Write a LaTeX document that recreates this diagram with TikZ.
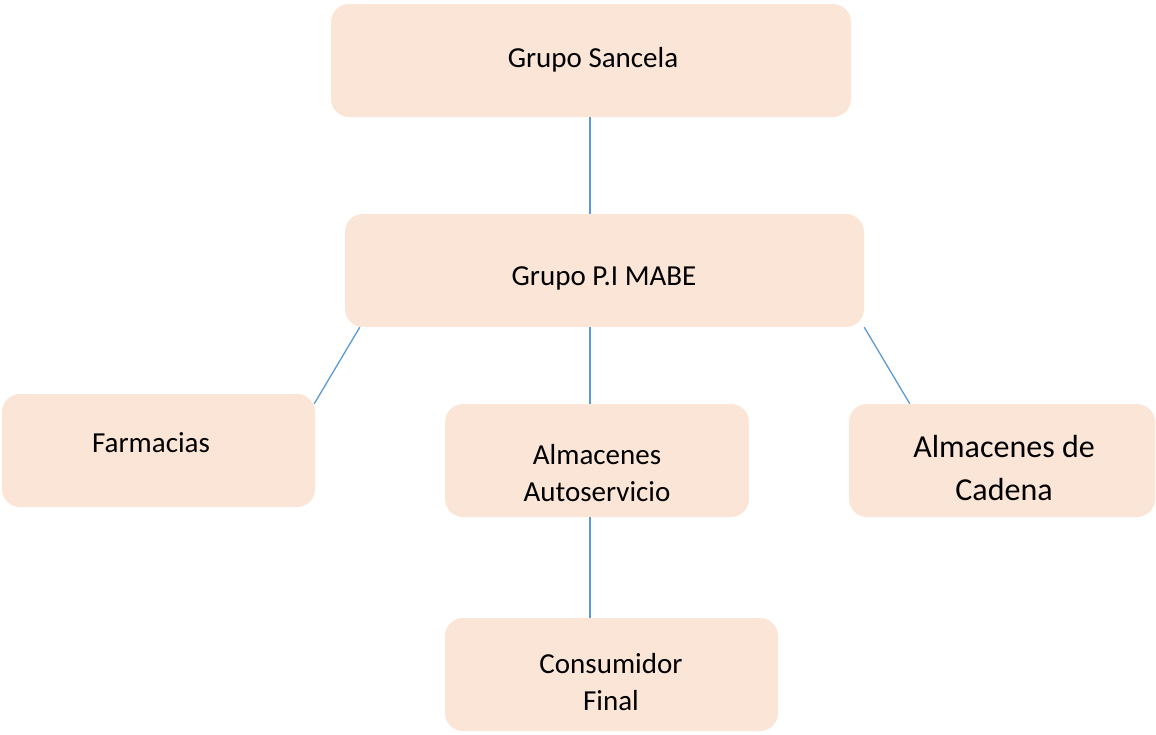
\documentclass[tikz,border=0pt]{standalone}
\usepackage{fontspec}
\setmainfont{Carlito}
\usetikzlibrary{calc}
\definecolor{boxfill}{HTML}{FBE5D6}
\definecolor{linkblue}{HTML}{5B9BD5}
\tikzset{
  orgbox/.style={fill=boxfill, draw=none, rounded corners=18pt, inner sep=0pt},
  orgtext/.style={align=center, font=\fontsize{29}{37}\selectfont},
  link/.style={draw=linkblue, line width=1.3pt}
}
\begin{document}
\begin{tikzpicture}[x=1pt,y=-1pt]
\useasboundingbox (0,0) rectangle (1156,734);

% boxes
\node[orgbox, minimum width=520pt, minimum height=113pt] (sancela) at (591,60.5) {};
\node[orgbox, minimum width=519pt, minimum height=113pt] (mabe) at (604.5,270.5) {};
\node[orgbox, minimum width=313pt, minimum height=113pt] (farm) at (158.5,450.5) {};
\node[orgbox, minimum width=304pt, minimum height=113pt] (auto) at (597,460.5) {};
\node[orgbox, minimum width=306pt, minimum height=113pt] (cadena) at (1002,460.5) {};
\node[orgbox, minimum width=333pt, minimum height=113pt] (final) at (611.5,674.5) {};

% texts
\node[orgtext] (tsancela) at (593,60) {Grupo Sancela};
\node[orgtext] (tmabe) at (604,278) {Grupo P.I MABE};
\node[orgtext] (tfarm) at (151,443) {Farmacias};
\node[orgtext] (tauto) at (597,473) {Almacenes\\Autoservicio};
\node[orgtext, font=\fontsize{32}{43}\selectfont] (tcadena) at (1004,468) {Almacenes de\\Cadena};
\node[orgtext] (tfinal) at (611,682) {Consumidor\\Final};

% connectors
\draw[link] ($(sancela.south)+(-1,0)$) -- ($(mabe.north)+(-14.5,0)$);
\draw[link] ($(mabe.south west)+(15,0)$) -- ($(farm.north east)+(-1,10)$);
\draw[link] ($(mabe.south)+(-14.5,0)$) -- ($(auto.north)+(-7,0)$);
\draw[link] (mabe.south east) -- ($(cadena.north west)+(61,0)$);
\draw[link] ($(auto.south)+(-7,0)$) -- ($(final.north)+(-21.5,0)$);
\end{tikzpicture}
\end{document}
